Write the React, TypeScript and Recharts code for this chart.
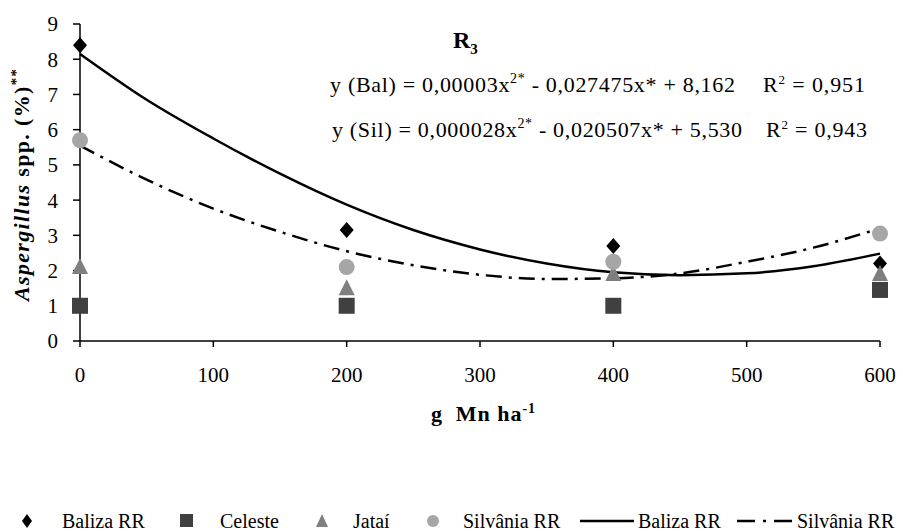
import React from 'react';
import {
  ComposedChart, Line, Scatter,
  XAxis, YAxis
} from 'recharts';

const FONT = "'Liberation Serif', 'DejaVu Serif'";

// doses (g Mn/ha) for the measured points
const doses = [0, 200, 400, 600];
const balizaPts = [8.4, 3.15, 2.7, 2.2];
const celestePts = [1.0, 1.0, 1.0, 1.45];
const jataiPts = [2.1, 1.5, 1.9, 1.9];
const silvaniaPts = [5.7, 2.1, 2.25, 3.05];

// fitted curves, every 50 g
const fitX = [0, 50, 100, 150, 200, 250, 300, 350, 400, 450, 500, 550, 600];
const balizaFit = [8.15, 6.85, 5.75, 4.75, 3.87, 3.15, 2.6, 2.2, 1.95, 1.87, 1.92, 2.12, 2.48];
const silvaniaFit = [5.55, 4.58, 3.76, 3.1, 2.55, 2.15, 1.88, 1.76, 1.78, 1.92, 2.25, 2.65, 3.2];

const xTicks = [0, 100, 200, 300, 400, 500, 600];
const yTicks = [0, 1, 2, 3, 4, 5, 6, 7, 8, 9];

const fitData = fitX.map((x, i) => ({ x, bal: balizaFit[i], sil: silvaniaFit[i] }));
const pts = (vals: number[]) => doses.map((x, i) => ({ x, y: vals[i] }));

const Diamond = (p: any) => (
  <polygon points={`${p.cx},${p.cy - 8} ${p.cx + 7},${p.cy} ${p.cx},${p.cy + 8} ${p.cx - 7},${p.cy}`} fill="#000" />
);
const Square = (p: any) => <rect x={p.cx - 8} y={p.cy - 8} width={16} height={16} fill="#404040" />;
const Triangle = (p: any) => (
  <polygon points={`${p.cx},${p.cy - 9} ${p.cx + 8},${p.cy + 7} ${p.cx - 8},${p.cy + 7}`} fill="#7f7f7f" />
);
const Circle = (p: any) => <circle cx={p.cx} cy={p.cy} r={8} fill="#a6a6a6" />;

const YLabel = () => (
  <text
    x={0} y={0}
    transform="translate(29,185) rotate(-90)"
    textAnchor="middle" textLength={232}
    style={{ fontFamily: FONT }} fontSize={22} fontWeight="bold" fill="#000"
  >
    <tspan fontStyle="italic">Aspergillus</tspan>
    <tspan> spp. (%)</tspan>
    <tspan dy={-8} fontSize={15}>**</tspan>
  </text>
);

const XLabel = () => (
  <text x={483} y={421} textAnchor="middle" textLength={104} style={{ fontFamily: FONT }} fontSize={22} fontWeight="bold" fill="#000">
    <tspan>{'g\u00a0\u00a0Mn ha'}</tspan>
    <tspan dy={-8} fontSize={14}>-1</tspan>
  </text>
);

export default function App() {
  return (
    <div style={{ position: 'absolute', left: 0, top: 0, width: 903, height: 531, background: '#fff', fontFamily: FONT }}>
      <ComposedChart width={903} height={531} data={fitData} margin={{ top: 24, right: 23, bottom: 0, left: 0 }}>
        <XAxis
          type="number" dataKey="x" domain={[0, 600]} ticks={xTicks}
          height={190} tickSize={6} tickMargin={20}
          axisLine={{ stroke: '#000', strokeWidth: 1.5 }} tickLine={{ stroke: '#000', strokeWidth: 1.5 }}
          tick={{ fill: '#000', style: { fontFamily: FONT }, fontSize: 21 }}
          label={<XLabel />}
        />
        <YAxis
          type="number" domain={[0, 9]} ticks={yTicks} width={80}
          tickSize={7} tickMargin={15}
          axisLine={{ stroke: '#000', strokeWidth: 1.5 }} tickLine={{ stroke: '#000', strokeWidth: 1.5 }}
          tick={{ fill: '#000', style: { fontFamily: FONT }, fontSize: 21 }}
          label={<YLabel />}
        />
        <Scatter data={pts(balizaPts)} dataKey="y" shape={Diamond} isAnimationActive={false} />
        <Scatter data={pts(celestePts)} dataKey="y" shape={Square} isAnimationActive={false} />
        <Scatter data={pts(jataiPts)} dataKey="y" shape={Triangle} isAnimationActive={false} />
        <Scatter data={pts(silvaniaPts)} dataKey="y" shape={Circle} isAnimationActive={false} />
        <Line type="monotone" dataKey="bal" stroke="#000" strokeWidth={2.5} dot={false} isAnimationActive={false} />
        <Line type="monotone" dataKey="sil" stroke="#000" strokeWidth={2.5} strokeDasharray="16 7 3 7" dot={false} isAnimationActive={false} />
      </ComposedChart>

      {/* title, equations and legend drawn over the chart */}
      <svg width={903} height={531} style={{ position: 'absolute', left: 0, top: 0, pointerEvents: 'none', fontFamily: FONT }}>
        <g fill="#000">
          <text x={453} y={48} fontSize={24} fontWeight="bold">
            R<tspan dy={6} fontSize={15}>3</tspan>
          </text>
          <text x={330} y={92} fontSize={22} textLength={405}>
            y (Bal) = 0,00003x<tspan dy={-9} fontSize={14}>2*</tspan>
            <tspan dy={9}> - 0,027475x* + 8,162</tspan>
          </text>
          <text x={763} y={92} fontSize={22} textLength={102}>
            R<tspan dy={-8} fontSize={13}>2</tspan><tspan dy={8}> = 0,951</tspan>
          </text>
          <text x={332} y={137} fontSize={22} textLength={410}>
            y (Sil) = 0,000028x<tspan dy={-9} fontSize={14}>2*</tspan>
            <tspan dy={9}> - 0,020507x* + 5,530</tspan>
          </text>
          <text x={766} y={137} fontSize={22} textLength={101}>
            R<tspan dy={-8} fontSize={13}>2</tspan><tspan dy={8}> = 0,943</tspan>
          </text>
        </g>
        <g fontSize={20} fill="#000">
          <polygon points="27,514 32,521 27,528 22,521" fill="#000" />
          <text x={62} y={528}>Baliza RR</text>
          <rect x={180} y={514} width={13} height={13} fill="#404040" />
          <text x={220} y={528}>Celeste</text>
          <polygon points="322,514 328,527 316,527" fill="#7f7f7f" />
          <text x={353} y={528}>Jataí</text>
          <circle cx={433} cy={521} r={6} fill="#a6a6a6" />
          <text x={463} y={528}>Silvânia RR</text>
          <line x1={580} x2={634} y1={521} y2={521} stroke="#000" strokeWidth={2.5} />
          <text x={638} y={528}>Baliza RR</text>
          <line x1={737} x2={796} y1={521} y2={521} stroke="#000" strokeWidth={2.5} strokeDasharray="18 8 3 8" />
          <text x={797} y={528}>Silvânia RR</text>
        </g>
      </svg>
    </div>
  );
}
